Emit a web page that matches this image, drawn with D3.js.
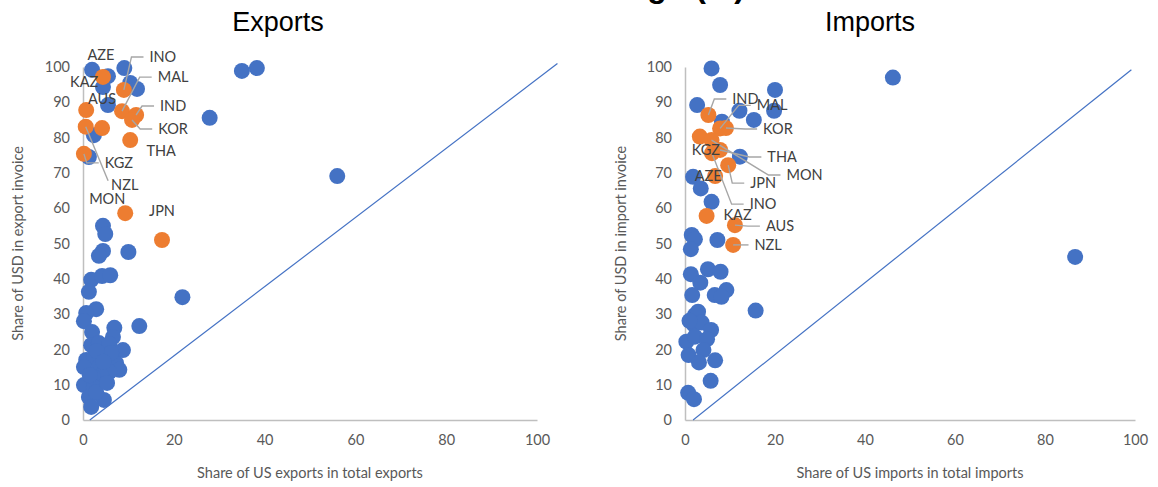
<!DOCTYPE html>
<html>
<head>
<meta charset="utf-8">
<script src="https://cdn.jsdelivr.net/npm/d3@7/dist/d3.min.js"></script>
<style>
  body { margin: 0; background: #fff; }
  svg { display: block; }
</style>
</head>
<body>
<svg id="chart" width="1158" height="487"></svg>
<script>
// ---- Exports: economies without a label (share of US in exports, share of USD in export invoicing)
const exportOtherX = [2.0, 5.5, 4.4, 9.1, 10.4, 11.9, 5.5, 2.4, 1.3, 35.0, 38.3, 27.9, 56.0,
  4.4, 4.9, 4.4, 3.5, 10.0, 1.8, 4.2, 6.0, 1.3, 2.9, 0.7, 0.2, 2.0, 6.9, 12.4, 21.9, 6.6,
  1.8, 3.5, 5.8, 8.8, 0.7, 2.4, 0.2, 3.5, 7.3, 8.0, 5.8, 4.0, 2.2, 0.2, 2.4, 1.3, 4.6, 1.8,
  4.9, 6.2, 1.5, 2.9, 5.3, 3.0, 4.5];
const exportOtherY = [99.2, 97.4, 94.3, 99.7, 95.5, 93.8, 89.2, 80.7, 74.5, 98.9, 99.7, 85.6, 69.1,
  55.0, 52.7, 47.9, 46.5, 47.6, 39.7, 40.8, 41.0, 36.3, 31.4, 30.3, 28.0, 24.9, 26.1, 26.6, 34.8, 23.5,
  21.2, 21.8, 21.5, 19.8, 17.0, 17.8, 15.0, 15.0, 16.1, 14.2, 13.6, 12.7, 12.2, 9.9, 9.3, 6.5, 5.7, 3.7,
  18.1, 19.0, 12.7, 7.9, 10.5, 19.5, 16.5];

// ---- Exports: labelled economies
const exportCodes = ["AZE", "KAZ", "AUS", "NZL", "KGZ", "INO", "MAL", "IND", "KOR", "THA", "MON", "JPN"];
const exportCodeX = [4.4, 0.7, 4.2, 0.6, 0.2, 9.0, 8.6, 11.7, 10.8, 10.4, 9.3, 17.4];
const exportCodeY = [97.2, 87.8, 82.7, 83.1, 75.4, 93.5, 87.5, 86.4, 85.0, 79.3, 58.6, 51.0];

// ---- Imports: economies without a label
const importOtherX = [5.9, 7.8, 20.0, 2.7, 12.1, 19.8, 15.3, 8.2, 12.2, 1.8, 3.5, 5.9, 1.5, 2.2,
  7.2, 1.3, 46.2, 86.7, 1.3, 5.1, 7.9, 3.4, 1.6, 6.6, 9.2, 8.1, 15.7, 2.2, 2.9, 1.9, 3.7, 1.0,
  5.8, 0.3, 2.2, 4.9, 0.8, 4.1, 3.1, 6.7, 5.7, 0.7, 2.0];
const importOtherY = [99.6, 94.9, 93.5, 89.2, 87.6, 87.6, 85.0, 84.5, 74.6, 68.9, 65.6, 61.8, 52.4, 51.2,
  51.0, 48.4, 97.0, 46.2, 41.3, 42.7, 42.0, 38.9, 35.4, 35.4, 36.8, 34.9, 31.0, 29.7, 30.7, 27.1, 27.6, 28.1,
  25.5, 22.2, 23.6, 22.9, 18.4, 19.8, 16.3, 16.9, 11.1, 7.7, 5.9];

// ---- Imports: labelled economies
const importCodes = ["IND", "MAL", "KOR", "KGZ", "MON", "THA", "INO", "JPN", "AZE", "KAZ", "AUS", "NZL"];
const importCodeX = [5.2, 7.8, 9.1, 3.3, 5.9, 7.8, 6.0, 9.6, 6.7, 4.8, 11.1, 10.7];
const importCodeY = [86.4, 82.6, 82.7, 80.3, 79.3, 76.5, 75.6, 72.2, 69.1, 57.8, 55.2, 49.6];

// ---- 45-degree reference lines (end points in data units)
const exportDiagonal = [[1.5, 0], [104.5, 101]];
const importDiagonal = [[1.8, 0], [99.2, 99.2]];

// ---- Axis ticks
const xTicks = [0, 20, 40, 60, 80, 100];
const yTicks = [0, 10, 20, 30, 40, 50, 60, 70, 80, 90, 100];

// ---- Label placement (pixel offsets of the label centre from its marker; leader style)
const exportLabelPlacement = {
  AZE: [-2, -22], KAZ: [-2, -28], AUS: [0, -29], NZL: [39, 58, "straight"], KGZ: [35, 9, "elbow"],
  INO: [39, -33, "elbow"], MAL: [51, -34, "elbow"], IND: [37, -9, "elbow"], KOR: [41, 9, "elbow"],
  THA: [31, 11], MON: [-18, -14], JPN: [0, -29]
};
const importLabelPlacement = {
  IND: [37, -16, "elbow"], MAL: [52, -23, "elbow"], KOR: [52, 1, "elbow"], KGZ: [6, 13],
  MON: [93, 35, "elbow"], THA: [62, 7, "elbow"], INO: [51, 51, "elbow"], JPN: [35, 18, "elbow"],
  AZE: [-7, 0], KAZ: [31, -1], AUS: [45, 1, "elbow"], NZL: [35, 0, "elbow"]
};

const BLUE = "#4472C4", ORANGE = "#ED7D31";
const TEXT = "#595959", LABEL = "#404040", AXIS = "#BFBFBF", LEADER = "#A6A6A6";
const FONT = "Lato, 'Open Sans', sans-serif";
const MARKER_R = 8;

const svg = d3.select("#chart");
svg.append("rect").attr("width", 1158).attr("height", 487).attr("fill", "#fff");

// Figure heading; it sits above the top edge so only its descenders show
svg.append("text")
  .attr("x", 745).attr("y", -3)
  .attr("text-anchor", "end")
  .attr("font-family", "'Liberation Sans', Arial, sans-serif")
  .attr("font-size", 32).attr("font-weight", "bold")
  .attr("fill", "#000")
  .text("USD Share Is High (%)");

const panels = [
  {
    title: "Exports", titleX: 278, xRange: [83, 537], yTitleX: 18,
    xTitle: "Share of US exports in total exports", yTitle: "Share of USD in export invoice",
    otherX: exportOtherX, otherY: exportOtherY,
    codes: exportCodes, codeX: exportCodeX, codeY: exportCodeY,
    placement: exportLabelPlacement, diagonal: exportDiagonal
  },
  {
    title: "Imports", titleX: 870, xRange: [685, 1135], yTitleX: 621,
    xTitle: "Share of US imports in total imports", yTitle: "Share of USD in import invoice",
    otherX: importOtherX, otherY: importOtherY,
    codes: importCodes, codeX: importCodeX, codeY: importCodeY,
    placement: importLabelPlacement, diagonal: importDiagonal
  }
];

panels.forEach(p => {
  const x = d3.scaleLinear().domain([0, 100]).range(p.xRange);
  const y = d3.scaleLinear().domain([0, 100]).range([420, 67]);
  const g = svg.append("g");

  // title
  g.append("text")
    .attr("x", p.titleX).attr("y", 31)
    .attr("text-anchor", "middle")
    .attr("font-family", "'Liberation Sans', Arial, sans-serif")
    .attr("font-size", 27).attr("fill", "#000")
    .text(p.title);

  // axes
  const xAxis = g.append("g").attr("transform", "translate(0,420)")
    .call(d3.axisBottom(x).tickValues(xTicks).tickSize(0).tickPadding(15).tickSizeOuter(0));
  const yAxis = g.append("g").attr("transform", `translate(${p.xRange[0]},0)`)
    .call(d3.axisLeft(y).tickValues(yTicks).tickSize(0).tickPadding(13).tickSizeOuter(0));
  [xAxis, yAxis].forEach(a => {
    a.select(".domain").attr("stroke", AXIS).attr("stroke-width", 1.5);
    a.selectAll("text").attr("font-family", FONT).attr("font-size", 14.5).attr("fill", TEXT);
  });

  // axis titles
  g.append("text")
    .attr("x", (p.xRange[0] + p.xRange[1]) / 2).attr("y", 478)
    .attr("text-anchor", "middle")
    .attr("font-family", FONT).attr("font-size", 14.5).attr("fill", TEXT)
    .text(p.xTitle);
  g.append("text")
    .attr("transform", `translate(${p.yTitleX},${y(50)}) rotate(-90)`)
    .attr("text-anchor", "middle").attr("dy", "0.35em")
    .attr("font-family", FONT).attr("font-size", 14.5).attr("fill", TEXT)
    .text(p.yTitle);

  // 45-degree line
  g.append("path")
    .datum(p.diagonal)
    .attr("d", d3.line().x(d => x(d[0])).y(d => y(d[1])))
    .attr("fill", "none").attr("stroke", BLUE).attr("stroke-width", 1.2);

  // unlabelled economies
  g.append("g").selectAll("circle")
    .data(d3.range(p.otherX.length))
    .join("circle")
    .attr("cx", i => x(p.otherX[i])).attr("cy", i => y(p.otherY[i]))
    .attr("r", MARKER_R).attr("fill", BLUE);

  // labelled economies
  const labelled = p.codes.map((c, i) => ({ code: c, vx: p.codeX[i], vy: p.codeY[i] }));
  g.append("g").selectAll("circle")
    .data(labelled)
    .join("circle")
    .attr("cx", d => x(d.vx)).attr("cy", d => y(d.vy))
    .attr("r", MARKER_R).attr("fill", ORANGE);

  // data labels and leader lines
  const leaders = g.append("g");
  const labels = g.append("g");
  labelled.forEach(d => {
    const [dx, dy, leader] = p.placement[d.code];
    const px = x(d.vx), py = y(d.vy);
    const lx = px + dx, ly = py + dy;
    const t = labels.append("text")
      .attr("x", lx).attr("y", ly).attr("dy", "0.35em")
      .attr("text-anchor", "middle")
      .attr("font-family", FONT).attr("font-size", 14.5).attr("fill", LABEL)
      .text(d.code);
    const w = t.node().getComputedTextLength();
    const left = lx - w / 2;
    let pts = null;
    if (leader === "elbow") {
      const sx = left - 6;
      pts = [[sx, ly], [sx - 12, ly], [px, py]];
    } else if (leader === "straight") {
      pts = [[left - 3, ly - 4], [px, py]];
    }
    if (pts) {
      leaders.append("path")
        .attr("d", d3.line()(pts))
        .attr("fill", "none").attr("stroke", LEADER).attr("stroke-width", 1.4);
    }
  });
});
</script>
</body>
</html>
